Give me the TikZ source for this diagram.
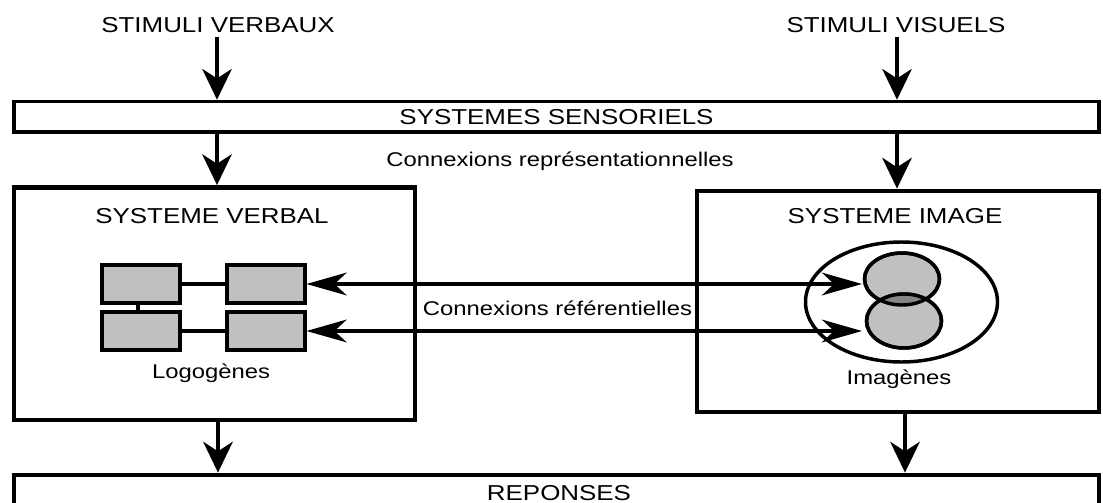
\documentclass[tikz,border=0pt]{standalone}
\usepackage{fontspec}
\setmainfont{Liberation Sans}[FakeStretch=1.2]
\usetikzlibrary{arrows.meta,shapes.geometric}
\definecolor{cellgray}{HTML}{C0C0C0}
\definecolor{lensgray}{HTML}{858585}
\begin{document}
\begin{tikzpicture}[x=0.75pt,y=-0.75pt,
  capstext/.style={font=\fontsize{16.2}{18}\selectfont, inner sep=0pt, anchor=base},
  smalltext/.style={font=\fontsize{14.9}{17}\selectfont, inner sep=0pt, anchor=base},
  bigbox/.style={draw, line width=3.6pt, inner sep=0pt},
  bandbox/.style={draw, line width=2.6pt, inner sep=0pt},
  cellbox/.style={draw, fill=cellgray, line width=3pt, inner sep=0pt,
    minimum width=58.5pt, minimum height=28.5pt},
  flow/.style={line width=3.2pt, -{Stealth[length=23pt, width=22pt, inset=7pt]}},
  refline/.style={line width=3.4pt,
    {Stealth[length=30pt, width=17pt, inset=9pt]}-{Stealth[length=30pt, width=17pt, inset=9pt]}},
  link/.style={line width=2.4pt},
  blob/.style={line width=2.6pt}
]
\useasboundingbox (0,0) rectangle (1103,503);

% input labels
\node[capstext] (sverb) at (218,33) {STIMULI VERBAUX};
\node[capstext] (svis) at (896,33) {STIMULI VISUELS};

% sensory band
\node[bandbox, minimum width=813.75pt, minimum height=22.9pt] (sens) at (556.5,116.75) {};
\node[capstext] (senslbl) at (556.5,124) {SYSTEMES SENSORIELS};
\node[smalltext] (repr) at (560,166) {Connexions représentationnelles};

% the two systems
\node[bigbox, minimum width=300.75pt, minimum height=174.4pt] (verbal) at (214.5,303.75) {};
\node[bigbox, minimum width=301.5pt, minimum height=165.75pt] (image) at (898,301.5) {};
\node[capstext] (verblbl) at (212,223) {SYSTEME VERBAL};
\node[capstext] (imglbl) at (895,223) {SYSTEME IMAGE};

% responses band
\node[bigbox, minimum width=813.75pt, minimum height=33pt] (rep) at (556.5,497) {};
\node[capstext] (replbl) at (559,500) {REPONSES};

% logogens
\node[cellbox] (L1) at (141,284) {};
\node[cellbox] (R1) at (265.5,284) {};
\node[cellbox] (L2) at (141,331) {};
\node[cellbox] (R2) at (265.5,331) {};
\draw[link] (L1.east) -- (R1.west);
\draw[link] (L2.east) -- (R2.west);
\coordinate (lk) at (138,0);
\draw[link] (L1.south -| lk) -- (L2.north -| lk);
\node[smalltext] (logo) at (211,378) {Logogènes};

% imagens
\node[draw, blob, ellipse, minimum width=144pt, minimum height=90pt, inner sep=0pt] (outer) at (901.5,302) {};
\draw[blob, fill=cellgray] (902,279) ellipse [x radius=37.5, y radius=26];
\draw[blob, fill=cellgray] (904,321) ellipse [x radius=37.5, y radius=27];
\begin{scope}
  \clip (902,279) ellipse [x radius=37.5, y radius=26];
  \fill[lensgray] (904,321) ellipse [x radius=37.5, y radius=27];
\end{scope}
\draw[blob] (902,279) ellipse [x radius=37.5, y radius=26];
\draw[blob] (904,321) ellipse [x radius=37.5, y radius=27];
\node[smalltext] (imag) at (899,384) {Imagènes};

% referential connections
\coordinate (t1) at (862,284);
\coordinate (t2) at (862,331);
\draw[refline] (R1.east) -- (t1);
\draw[refline] (R2.east) -- (t2);
\node[smalltext] (refl) at (557.5,315) {Connexions référentielles};

% vertical flow
\coordinate (cl) at (217,37);
\coordinate (cr) at (897,37);
\coordinate (bl) at (218,0);
\coordinate (br) at (905,0);
\draw[flow] (cl) -- (cl |- sens.north);
\draw[flow] (cr) -- (cr |- sens.north);
\draw[flow] (sens.south -| cl) -- (verbal.north -| cl);
\draw[flow] (sens.south -| cr) -- (image.north -| cr);
\draw[flow] (verbal.south -| bl) -- (rep.north -| bl);
\draw[flow] (image.south -| br) -- (rep.north -| br);
\end{tikzpicture}
\end{document}
